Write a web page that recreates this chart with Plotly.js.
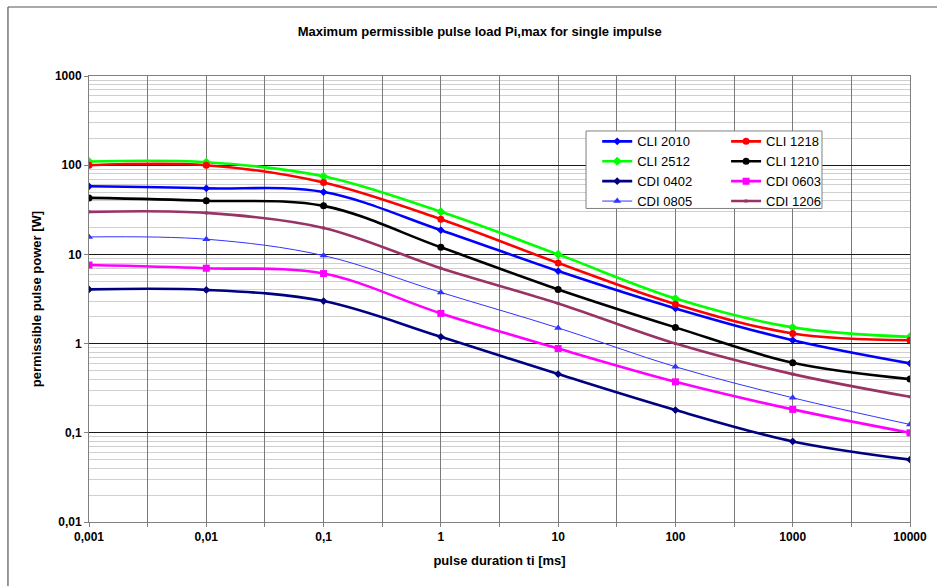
<!DOCTYPE html>
<html>
<head>
<meta charset="utf-8">
<script src="https://cdn.plot.ly/plotly-3.0.1.min.js"></script>
<style>html,body{margin:0;padding:0;background:#fff;}#chart{width:937px;height:586px;}</style>
</head>
<body>
<div id="chart"></div>
<script>
// pulse duration ti [ms]
const durations = [0.001, 0.01, 0.1, 1, 10, 100, 1000, 10000];

// permissible pulse power [W]
const cli2010 = [58, 55, 50, 18.7, 6.5, 2.48, 1.09, 0.6];
const cli1218 = [100, 100, 64, 24.8, 8.0, 2.77, 1.3, 1.09];
const cli2512 = [110, 108, 75, 30, 10, 3.2, 1.52, 1.19];
const cli1210 = [43, 40, 35, 12, 4.05, 1.52, 0.61, 0.4];
const cdi0402 = [4.05, 4.0, 3.0, 1.19, 0.455, 0.18, 0.08, 0.05];
const cdi0603 = [7.6, 7.0, 6.1, 2.18, 0.88, 0.373, 0.183, 0.1];
const cdi0805 = [15.7, 14.8, 9.7, 3.75, 1.5, 0.55, 0.247, 0.124];
const cdi1206 = [30, 29.2, 19.8, 7.0, 2.82, 1.0, 0.455, 0.253];

const xTickLabels = ["0,001", "0,01", "0,1", "1", "10", "100", "1000", "10000"];
const yTickValues = [0.01, 0.1, 1, 10, 100, 1000];
const yTickLabels = ["0,01", "0,1", "1", "10", "100", "1000"];

// x grid every half decade, labels at decades only
const xTickVals = [];
const xTickText = [];
for (let i = 0; i < durations.length; i++) {
  xTickVals.push(durations[i]);
  xTickText.push(xTickLabels[i]);
  if (i < durations.length - 1) {
    xTickVals.push(durations[i] * Math.sqrt(10));
    xTickText.push("");
  }
}
const yMinor = [];
for (let e = -2; e < 3; e++) {
  for (let m = 2; m <= 9; m++) yMinor.push(m * Math.pow(10, e));
}

function tr(name, y, color, width, symbol, size, legend) {
  return {
    type: 'scatter', mode: 'lines+markers', name: name, x: durations, y: y,
    line: {color: color, width: width, shape: 'spline', smoothing: 1},
    marker: {color: color, symbol: symbol, size: size},
    legend: legend
  };
}

const traces = [
  tr('CDI 1206', cdi1206, '#993366', 2.6, 'square', 3, 'legend2'),
  tr('CDI 0805', cdi0805, '#3333ff', 1, 'triangle-up', 7, 'legend'),
  tr('CDI 0603', cdi0603, '#ff00ff', 2.6, 'square', 7, 'legend2'),
  tr('CDI 0402', cdi0402, '#000080', 2.6, 'diamond', 6, 'legend'),
  tr('CLI 1210', cli1210, '#000000', 2.6, 'circle', 7, 'legend2'),
  tr('CLI 2512', cli2512, '#00ff00', 2.6, 'diamond', 7, 'legend'),
  tr('CLI 2010', cli2010, '#0000ff', 2.6, 'diamond', 6, 'legend'),
  tr('CLI 1218', cli1218, '#ff0000', 2.6, 'circle', 7, 'legend2')
];

const legendFont = {family: 'Liberation Sans, Arial, sans-serif', size: 13, color: '#000'};

const layout = {
  width: 937, height: 586,
  margin: {l: 89, r: 27, t: 76, b: 64},
  paper_bgcolor: '#ffffff', plot_bgcolor: '#ffffff',
  font: {family: 'Liberation Sans, Arial, sans-serif', color: '#000'},
  showlegend: true,
  title: {
    text: '<b>Maximum permissible pulse load Pi,max for single impulse</b>',
    font: {family: 'Liberation Sans, Arial, sans-serif', size: 13, color: '#000'},
    x: 0.512, xanchor: 'center', y: 0.947, yanchor: 'middle'
  },
  xaxis: {
    type: 'log', range: [-3, 4], tickmode: 'array', tickvals: xTickVals, ticktext: xTickText,
    showgrid: true, gridcolor: '#7a7a7a', gridwidth: 1,
    showline: true, linecolor: '#808080', linewidth: 1, mirror: true,
    ticks: 'outside', ticklen: 4, tickcolor: '#808080',
    tickfont: {family: 'Liberation Sans, Arial, sans-serif', size: 12, color: '#000', weight: 'bold'},
    zeroline: false,
    title: {text: '<b>pulse duration ti [ms]</b>', font: {size: 13, color: '#000'}, standoff: 12}
  },
  yaxis: {
    type: 'log', range: [-2, 3], tickmode: 'array', tickvals: yTickValues, ticktext: yTickLabels,
    showgrid: true, gridcolor: '#1a1a1a', gridwidth: 1,
    showline: true, linecolor: '#808080', linewidth: 1, mirror: true,
    ticks: 'outside', ticklen: 4, tickcolor: '#808080',
    tickfont: {family: 'Liberation Sans, Arial, sans-serif', size: 12, color: '#000', weight: 'bold'},
    zeroline: false,
    minor: {tickmode: 'array', tickvals: yMinor, showgrid: true, gridcolor: '#cfcfcf', gridwidth: 1, ticks: ''},
    title: {text: '<b>permissible pulse power [W]</b>', font: {size: 13, color: '#000'}, standoff: 10}
  },
  legend: {
    x: 0.619, y: 0.887, xanchor: 'left', yanchor: 'top', orientation: 'v',
    bgcolor: 'rgba(0,0,0,0)', borderwidth: 0, font: legendFont, traceorder: 'reversed'
  },
  legend2: {
    x: 0.776, y: 0.887, xanchor: 'left', yanchor: 'top', orientation: 'v',
    bgcolor: 'rgba(0,0,0,0)', borderwidth: 0, font: legendFont, traceorder: 'reversed'
  },
  shapes: [
    {type: 'rect', xref: 'paper', yref: 'paper', x0: 0.6054, x1: 0.8928, y0: 0.703, y1: 0.8767,
     fillcolor: '#ffffff', line: {color: '#7f7f7f', width: 1}, layer: 'above'},
    {type: 'line', xref: 'paper', yref: 'paper', x0: -0.0987, x1: 1.04, y0: 1.1547, y1: 1.1547,
     line: {color: '#555', width: 1.2}},
    {type: 'line', xref: 'paper', yref: 'paper', x0: -0.0987, x1: -0.0987, y0: 1.1547, y1: -0.16,
     line: {color: '#555', width: 1.2}}
  ]
};

Plotly.newPlot('chart', traces, layout, {displayModeBar: false, staticPlot: true});
</script>
</body>
</html>
